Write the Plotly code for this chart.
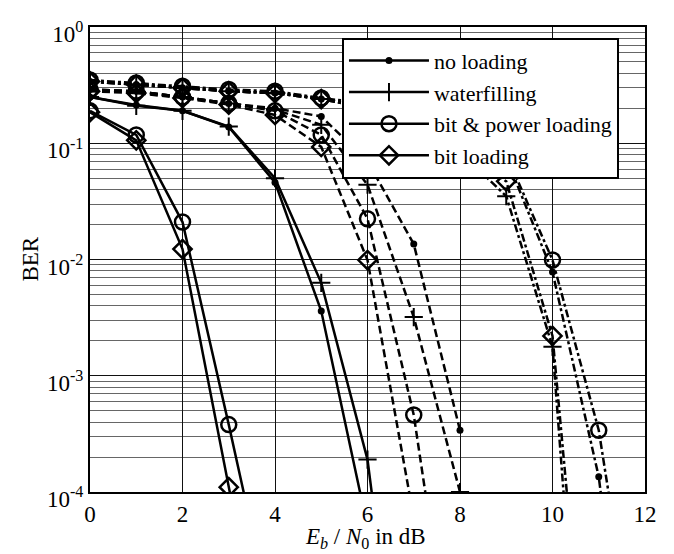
import plotly.graph_objects as go

# ---- data ----
labels = ["no loading", "waterfilling", "bit & power loading", "bit loading"]

# group 1 (solid)
x_solid = [0, 1, 2, 3, 4, 5, 6, 7]
solid_no_loading = [0.25, 0.213, 0.19, 0.138, 0.046, 3.6e-3, 5e-5]
solid_waterfilling = [0.25, 0.21, 0.19, 0.139, 0.05, 6.3e-3, 1.9e-4, 1.5e-7]
solid_bit_power = [0.19, 0.118, 0.021, 3.8e-4, 6e-6]
solid_bit = [0.185, 0.106, 0.0123, 1.1e-4, 1e-6]

# group 2 (dashed)
x_dash = [0, 1, 2, 3, 4, 5, 6, 7, 8]
dash_no_loading = [0.29, 0.28, 0.25, 0.22, 0.2, 0.17, 0.07, 0.0136, 3.4e-4]
dash_waterfilling = [0.29, 0.28, 0.25, 0.22, 0.195, 0.144, 0.044, 3.2e-3, 1.0e-4]
dash_bit_power = [0.29, 0.28, 0.25, 0.22, 0.19, 0.118, 0.0224, 4.6e-4, 1e-6]
dash_bit = [0.28, 0.27, 0.245, 0.215, 0.175, 0.093, 0.0099, 6e-5]

# group 3 (dash-dot)
x_dashdot = [0, 1, 2, 3, 4, 5, 6, 7, 8, 9, 10, 11, 12]
dd_no_loading = [0.34, 0.32, 0.3, 0.28, 0.27, 0.24, 0.21, 0.18, 0.13, 0.075, 7.8e-3, 1.35e-4, 1e-7]
dd_waterfilling = [0.34, 0.32, 0.3, 0.28, 0.27, 0.24, 0.2, 0.15, 0.085, 0.035, 1.78e-3, 1e-8]
dd_bit_power = [0.35, 0.33, 0.31, 0.29, 0.28, 0.245, 0.22, 0.19, 0.14, 0.08, 9.9e-3, 3.4e-4, 1e-6]
dd_bit = [0.34, 0.32, 0.3, 0.28, 0.27, 0.24, 0.2, 0.16, 0.09, 0.047, 2.2e-3, 1e-7]

x_ticks = [0, 2, 4, 6, 8, 10, 12]
y_ticks = [1e-4, 1e-3, 1e-2, 1e-1, 1]
y_ticktext = ["10<sup>-4</sup>", "10<sup>-3</sup>", "10<sup>-2</sup>", "10<sup>-1</sup>", "10<sup>0</sup>"]
y_minor = [k * 10.0 ** e for e in range(-4, 0) for k in range(2, 10)]

FONT = "Liberation Serif, Times New Roman, Times, serif"

markers = [
    dict(symbol="circle", size=7, color="black"),
    dict(symbol="cross-thin", size=13, color="black", line=dict(width=2, color="black")),
    dict(symbol="circle-open", size=15, color="black", line=dict(width=2.5, color="black")),
    dict(symbol="diamond-open", size=14, color="black", line=dict(width=2.5, color="black")),
]

fig = go.Figure()

groups = [
    (x_solid, [solid_no_loading, solid_waterfilling, solid_bit_power, solid_bit], "solid"),
    (x_dash, [dash_no_loading, dash_waterfilling, dash_bit_power, dash_bit], "8px,4px"),
    (x_dashdot, [dd_no_loading, dd_waterfilling, dd_bit_power, dd_bit], "8px,3px,3px,3px"),
]

for xs, series, dash in groups:
    for i, ys in enumerate(series):
        fig.add_trace(go.Scatter(
            x=xs[:len(ys)], y=ys, mode="lines+markers",
            line=dict(color="black", width=2.5, dash=dash),
            marker=markers[i], showlegend=False, hoverinfo="skip",
        ))

# legend entries
for i, name in enumerate(labels):
    fig.add_trace(go.Scatter(
        x=[None], y=[None], mode="lines+markers", name=name,
        line=dict(color="black", width=2.5), marker=markers[i],
    ))

fig.update_layout(
    width=674, height=554,
    margin=dict(l=90, r=29, t=27, b=62),
    plot_bgcolor="white", paper_bgcolor="white",
    font=dict(family=FONT, color="black", size=23),
    legend=dict(
        x=0.454, y=0.977, xanchor="left", yanchor="top",
        bgcolor="white", bordercolor="black", borderwidth=2,
        font=dict(family=FONT, size=22, color="black"),
        itemwidth=80, tracegroupgap=0,
    ),
    showlegend=True,
    hovermode=False,
    annotations=[
        dict(text="<i>E</i><sub><i>b</i></sub> / <i>N</i><sub>0</sub> in dB",
             xref="paper", yref="paper", x=0.497, y=-0.098,
             xanchor="center", yanchor="middle", showarrow=False,
             font=dict(family=FONT, size=23, color="black")),
        dict(text="BER", xref="paper", yref="paper", x=-0.108, y=0.5,
             xanchor="center", yanchor="middle", showarrow=False, textangle=-90,
             font=dict(family=FONT, size=23, color="black")),
    ],
)

fig.update_xaxes(
    range=[0, 12], tickvals=x_ticks, ticktext=[str(v) for v in x_ticks],
    showgrid=True, gridcolor="#111", gridwidth=1,
    showline=True, linecolor="black", linewidth=2, mirror=True,
    zeroline=False, ticks="",
    tickfont=dict(family=FONT, size=23),
)

fig.update_yaxes(
    type="log", range=[-4, 0], tickvals=y_ticks, ticktext=y_ticktext,
    showgrid=True, gridcolor="#111", gridwidth=1,
    minor=dict(tickvals=y_minor, showgrid=True, gridcolor="#666", gridwidth=1),
    showline=True, linecolor="black", linewidth=2, mirror=True,
    zeroline=False, ticks="", ticklabelshift=7,
    tickfont=dict(family=FONT, size=23),
)

fig.write_html(
    "out.html",
    config={"displayModeBar": False, "staticPlot": True},
    post_script="document.body.style.margin='0';document.body.style.overflow='hidden';",
)
